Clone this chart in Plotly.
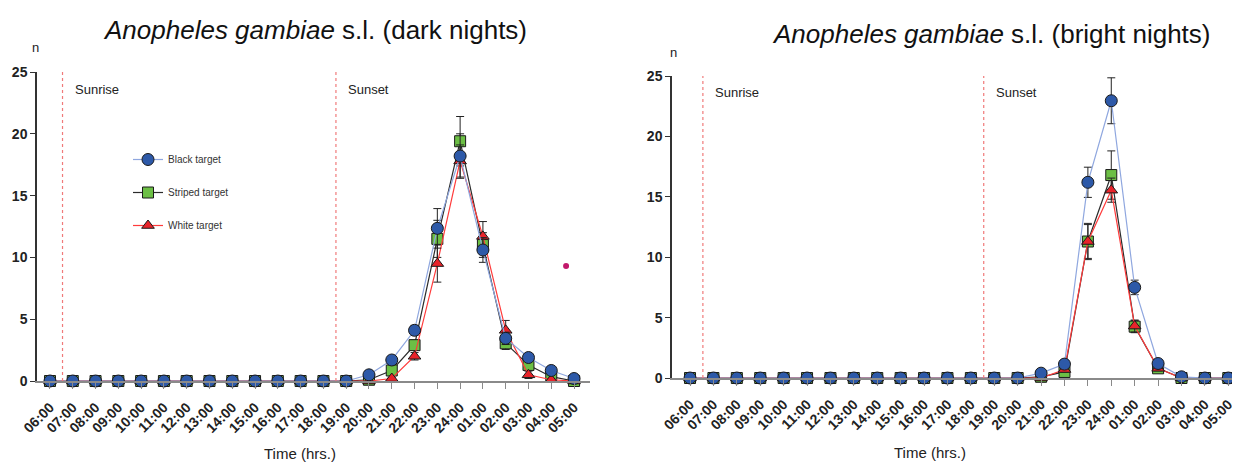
import plotly.graph_objects as go

# ---------------- data ----------------
hours = ["06:00", "07:00", "08:00", "09:00", "10:00", "11:00", "12:00", "13:00",
         "14:00", "15:00", "16:00", "17:00", "18:00", "19:00", "20:00", "21:00",
         "22:00", "23:00", "24:00", "01:00", "02:00", "03:00", "04:00", "05:00"]

# dark nights
dark_black = [0]*14 + [0.5, 1.7, 4.1, 12.35, 18.2, 10.6, 3.45, 1.9, 0.85, 0.2]
dark_black_err = [0]*14 + [0.2, 0.3, 0.4, 1.6, 1.8, 1.0, 0.5, 0.3, 0.2, 0.1]
dark_striped = [0]*14 + [0.1, 0.85, 2.9, 11.5, 19.4, 11.0, 3.05, 1.3, 0.35, 0.0]
dark_striped_err = [0]*14 + [0.1, 0.3, 0.4, 1.5, 2.0, 1.0, 0.5, 0.3, 0.2, 0.1]
dark_white = [0]*14 + [0.0, 0.2, 2.0, 9.5, 17.8, 11.7, 4.1, 0.5, 0.1, 0.0]
dark_white_err = [0]*14 + [0.0, 0.1, 0.3, 1.5, 1.3, 1.2, 0.8, 0.3, 0.1, 0.0]

# bright nights
bright_black = [0]*15 + [0.4, 1.15, 16.2, 22.95, 7.5, 1.2, 0.1, 0.0, 0.0]
bright_black_err = [0]*15 + [0.1, 0.3, 1.25, 1.9, 0.6, 0.3, 0.1, 0.0, 0.0]
bright_striped = [0]*15 + [0.1, 0.5, 11.3, 16.8, 4.25, 0.8, 0.0, 0.0, 0.0]
bright_striped_err = [0]*15 + [0.1, 0.2, 1.5, 2.0, 0.5, 0.2, 0.0, 0.0, 0.0]
bright_white = [0]*15 + [0.0, 0.7, 11.3, 15.55, 4.3, 0.8, 0.0, 0.0, 0.0]
bright_white_err = [0]*15 + [0.0, 0.2, 1.4, 1.0, 0.5, 0.2, 0.0, 0.0, 0.0]

series_names = ["Black target", "Striped target", "White target"]
sunrise_pos = 0.55   # between 06:00 and 07:00
sunset_pos = 12.55   # between 18:00 and 19:00
stray_x = [22.65]
stray_y = [9.3]

x_idx = list(range(len(hours)))

FONT = "Liberation Sans, Arial, sans-serif"
styles = {
    "Black target": dict(symbol="circle", color="#2d59a8", line="#8fa7df", size=12),
    "Striped target": dict(symbol="square", color="#6cbf45", line="#2b2b2b", size=11),
    "White target": dict(symbol="triangle-up", color="#e8232a", line="#ff3b3b", size=11),
}

fig = go.Figure()

def add_panel(xa, ya, data, show_legend):
    order = [("Striped target", 1), ("White target", 2), ("Black target", 0)]
    for name, rank in order:
        vals, errs = data[name]
        st = styles[name]
        fig.add_trace(go.Scatter(
            x=x_idx, y=vals, name=name, mode="lines+markers",
            xaxis=xa, yaxis=ya, cliponaxis=False,
            legendrank=rank + 1, showlegend=show_legend,
            legendgroup=name,
            line=dict(color=st["line"], width=1.2),
            marker=dict(symbol=st["symbol"], size=st["size"], color=st["color"],
                        line=dict(color="#1a1a1a", width=1)),
            error_y=dict(type="data", array=errs, visible=True, color="#222222",
                         thickness=1, width=4),
        ))

add_panel("x", "y", {
    "Black target": (dark_black, dark_black_err),
    "Striped target": (dark_striped, dark_striped_err),
    "White target": (dark_white, dark_white_err),
}, True)
add_panel("x2", "y2", {
    "Black target": (bright_black, bright_black_err),
    "Striped target": (bright_striped, bright_striped_err),
    "White target": (bright_white, bright_white_err),
}, False)

fig.add_trace(go.Scatter(x=stray_x, y=stray_y, mode="markers", xaxis="x", yaxis="y",
                         showlegend=False, marker=dict(color="#c2186b", size=6)))

# page body has an 8px margin: figure occupies screen pixels 8..1240, 8..468
OFF = 8
W, H = 1240 - OFF, 468 - OFF
def fx(px):
    return (px - OFF) / W
def fy(py):
    return 1 - (py - OFF) / H

xcommon = dict(tickmode="array", tickvals=x_idx, ticktext=hours, tickangle=-45,
               showgrid=False, zeroline=False, showline=True, linecolor="#8a8a8a",
               linewidth=1.5, ticks="outside", ticklen=6, tickcolor="#8a8a8a",
               automargin=False, ticklabelstandoff=5,
               tickfont=dict(family=FONT, size=14, color="#222222", weight="bold"))
ycommon = dict(range=[0, 25], tickvals=[0, 5, 10, 15, 20, 25], showgrid=False,
               zeroline=False, showline=True, linecolor="#333333", linewidth=1.5,
               ticks="outside", ticklen=5, tickcolor="#333333", automargin=False,
               tickfont=dict(family=FONT, size=14, color="#222222", weight="bold"))

fig.update_layout(
    width=W, height=H, margin=dict(l=0, r=0, t=0, b=0, pad=0, autoexpand=False),
    paper_bgcolor="white", plot_bgcolor="white",
    font=dict(family=FONT),
    xaxis=dict(domain=[fx(37), fx(590)], range=[-0.57, 23.7], anchor="y", **xcommon),
    yaxis=dict(domain=[fy(381), fy(72)], anchor="x", **ycommon),
    xaxis2=dict(domain=[fx(672), fx(1240)], range=[-0.77, 23.5], anchor="y2", **xcommon),
    yaxis2=dict(domain=[fy(378), fy(76)], anchor="x2", **ycommon),
    legend=dict(x=fx(128), y=fy(145), xanchor="left", yanchor="top",
                traceorder="grouped", tracegroupgap=14,
                font=dict(family=FONT, size=10, color="#333333"),
                bgcolor="rgba(0,0,0,0)", itemwidth=30),
    showlegend=True,
)

shapes = []
for xa, ya in [("x", "y"), ("x2", "y2")]:
    for pos in [sunrise_pos, sunset_pos]:
        shapes.append(dict(type="line", xref=xa, yref=ya, x0=pos, x1=pos, y0=0, y1=25.3,
                           line=dict(color="#f07a7a", width=1.2, dash="dot")))
fig.update_layout(shapes=shapes)

ann = []
titles = [("x", "y", 315, 30, "dark nights"), ("x2", "y2", 991, 34, "bright nights")]
for xa, ya, cx, cy, label in titles:
    ann.append(dict(xref="paper", yref="paper", x=fx(cx), y=fy(cy), showarrow=False,
                    text=f"<i>Anopheles gambiae</i> s.l. ({label})",
                    font=dict(family=FONT, size=26, color="#111111"),
                    xanchor="center", yanchor="middle"))
    ann.append(dict(xref=xa, yref=ya, x=sunrise_pos + 0.45, y=23.6, showarrow=False,
                    text="Sunrise", xanchor="left", yanchor="middle",
                    font=dict(family=FONT, size=13, color="#222222")))
    ann.append(dict(xref=xa, yref=ya, x=sunset_pos + 0.45, y=23.6, showarrow=False,
                    text="Sunset", xanchor="left", yanchor="middle",
                    font=dict(family=FONT, size=13, color="#222222")))

ann.append(dict(xref="paper", yref="paper", x=fx(35), y=fy(48), text="n", showarrow=False,
                xanchor="center", yanchor="middle",
                font=dict(family=FONT, size=13, color="#222222")))
ann.append(dict(xref="paper", yref="paper", x=fx(673), y=fy(53), text="n", showarrow=False,
                xanchor="center", yanchor="middle",
                font=dict(family=FONT, size=13, color="#222222")))
ann.append(dict(xref="paper", yref="paper", x=fx(300), y=fy(453), text="Time (hrs.)",
                xanchor="center", yanchor="middle",
                showarrow=False, font=dict(family=FONT, size=15, color="#222222")))
ann.append(dict(xref="paper", yref="paper", x=fx(930), y=fy(452), text="Time (hrs.)",
                xanchor="center", yanchor="middle",
                showarrow=False, font=dict(family=FONT, size=15, color="#222222")))
fig.update_layout(annotations=ann)

fig.write_html("out.html")
